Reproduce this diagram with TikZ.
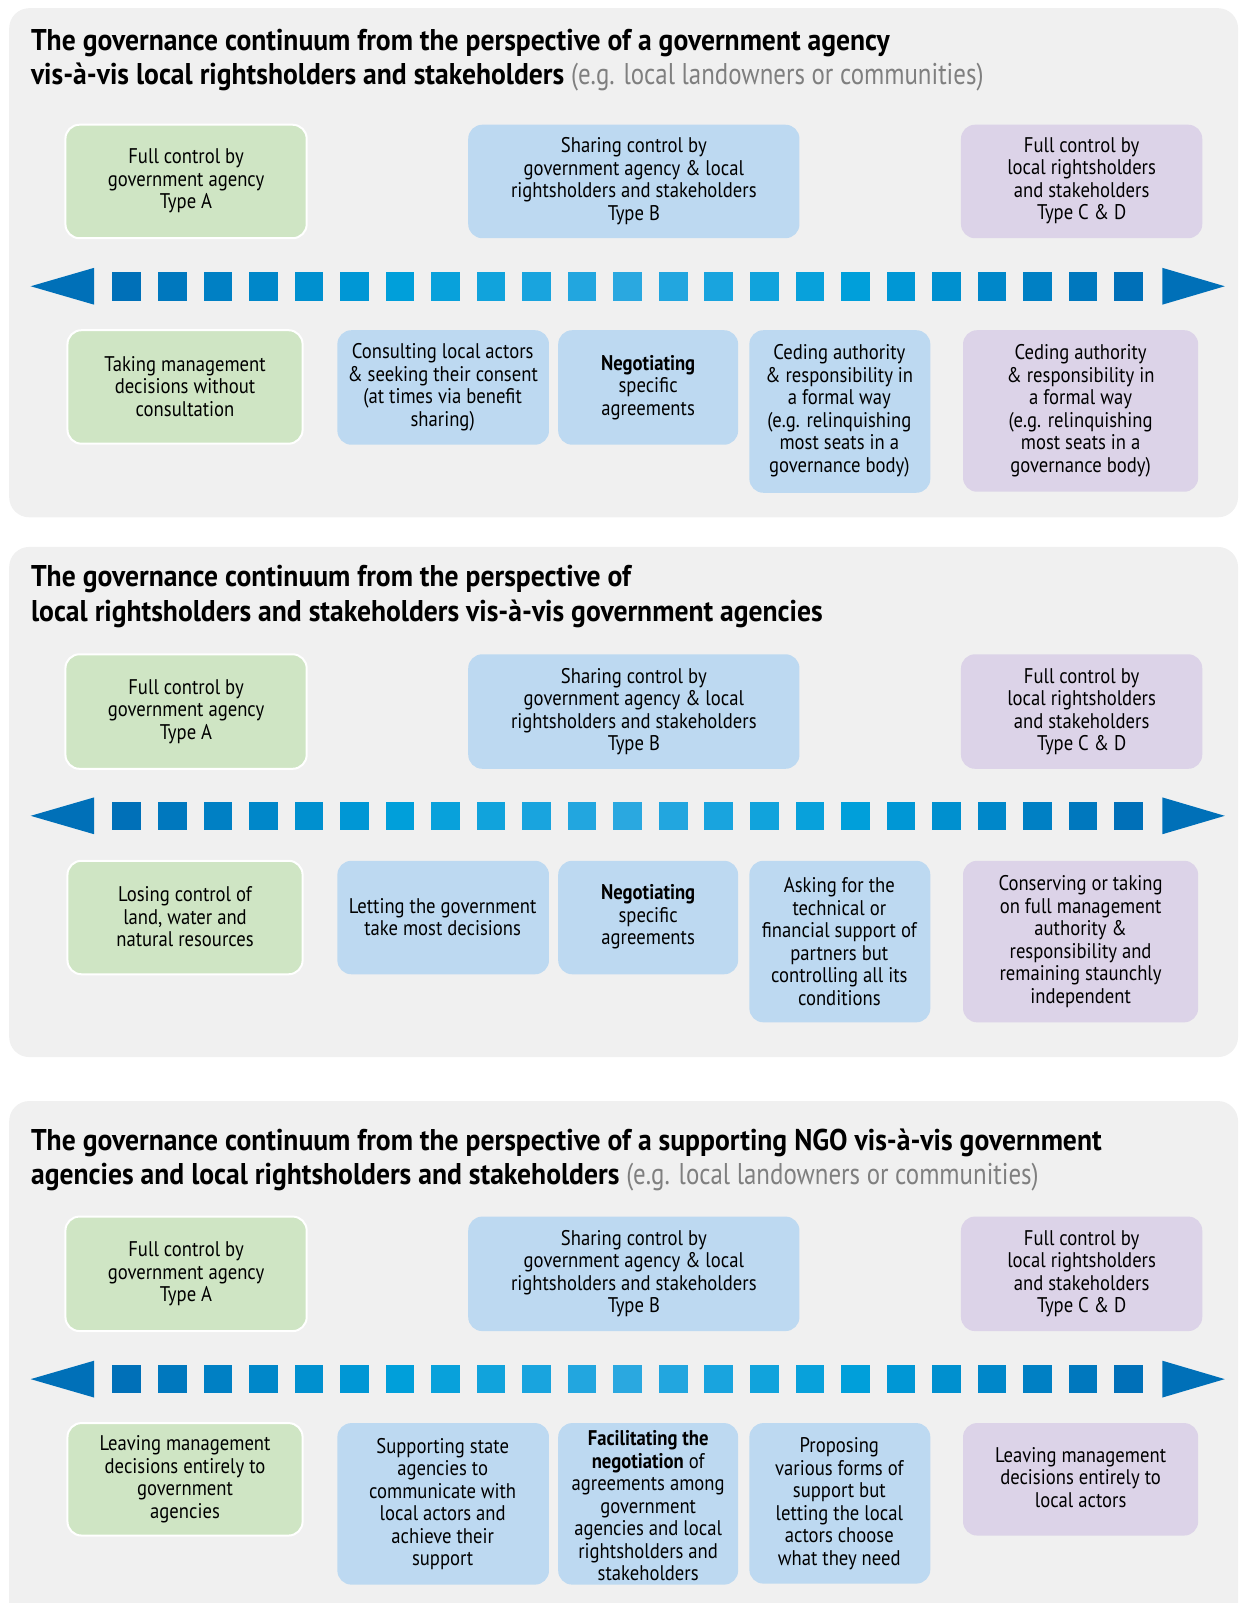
\documentclass[tikz,border=0pt]{standalone}
\usepackage{fontspec}
\setmainfont{PT Sans}[FakeStretch=0.88]
\newfontfamily\headfont{PT Sans}[FakeStretch=0.92]
\newfontfamily\notefont{PT Sans}[FakeStretch=0.83]
\definecolor{panelgray}{HTML}{F0F0F0}
\definecolor{boxgreen}{HTML}{CFE5C4}
\definecolor{boxblue}{HTML}{BDD9F1}
\definecolor{boxpurple}{HTML}{DCD3E8}
\definecolor{arrowdark}{HTML}{0070B8}
\definecolor{arrowcyan}{HTML}{009FDA}
\definecolor{arrowlight}{HTML}{2AA8E0}
\definecolor{notegray}{HTML}{7F7F7F}
\begin{document}
\begin{tikzpicture}[x=0.5111pt, y=-0.5111pt,
    panel/.style={fill=panelgray, rounded corners=10pt},
    greenbox/.style={fill=boxgreen, draw=white, line width=1pt, rounded corners=7pt},
    bluebox/.style={fill=boxblue, rounded corners=7pt},
    purplebox/.style={fill=boxpurple, rounded corners=7pt},
    boxtext/.style={align=center, inner sep=0pt, font=\fontsize{10.6}{11.25}\selectfont},
    title/.style={anchor=base west, inner sep=0pt, font=\fontsize{15}{17.4}\selectfont\headfont\bfseries},
    note/.style={font=\mdseries\color{notegray}}]
    \useasboundingbox (0,0) rectangle (1212,1568);

    % Panels
    \fill[panel] (9,8) rectangle (1211,506);
    \fill[panel] (9,535) rectangle (1211,1034);
    \fill[panel] (9,1077) rectangle (1211,1590);

    % Continuum arrows
    \foreach \ya in {280,798,1349} {
        \fill[arrowdark] (30,\ya) -- (92,\ya-18) -- (92,\ya+18) -- cycle;
        \fill[arrowdark] (1198,\ya) -- (1137,\ya-18) -- (1137,\ya+18) -- cycle;
        \foreach \i in {0,...,22} {
            \pgfmathtruncatemacro\d{abs(\i-11)}
            \ifnum\d<6
                \pgfmathtruncatemacro\p{100*\d/5}
                \colorlet{sqcol}{arrowcyan!\p!arrowlight}
            \else
                \pgfmathtruncatemacro\p{100*(\d-5)/6}
                \colorlet{sqcol}{arrowdark!\p!arrowcyan}
            \fi
            \fill[sqcol] ({110+44.545*\i},\ya-14) rectangle ++(28,28);
        }
    }

    % Panel 1: government agency
    \node[title] (title1a) at (30,49) {The governance continuum from the perspective of a government agency};
    \node[title] (title1b) at (30,83) {vis-à-vis local rightsholders and stakeholders {\notefont\mdseries\color{notegray}(e.g. local landowners or communities)}};

    \draw[greenbox] (64,122) rectangle (300,233);
    \node[boxtext] (gov1) at (182,177) {Full control by\\government agency\\Type A};
    \fill[bluebox] (458,122) rectangle (782,233);
    \node[boxtext] (share1) at (620,177) {Sharing control by\\government agency \& local\\rightsholders and stakeholders\\Type B};
    \fill[purplebox] (940,122) rectangle (1176,233);
    \node[boxtext] (local1) at (1058,177) {Full control by\\local rightsholders\\and stakeholders\\Type C \& D};

    \draw[greenbox] (66,323) rectangle (296,434);
    \node[boxtext] (take1) at (181,378) {Taking management\\decisions without\\consultation};
    \fill[bluebox] (330,323) rectangle (537,435);
    \node[boxtext] (consult1) at (433,379) {Consulting local actors\\\& seeking their consent\\(at times via benefit\\sharing)};
    \fill[bluebox] (546,323) rectangle (722,435);
    \node[boxtext] (negot1) at (634,379) {\textbf{Negotiating}\\specific\\agreements};
    \fill[bluebox] (733,323) rectangle (910,482);
    \node[boxtext] (cede1) at (821,402) {Ceding authority\\\& responsibility in\\a formal way\\(e.g. relinquishing\\most seats in a\\governance body)};
    \fill[purplebox] (942,323) rectangle (1172,481);
    \node[boxtext] (cedelocal1) at (1057,402) {Ceding authority\\\& responsibility in\\a formal way\\(e.g. relinquishing\\most seats in a\\governance body)};

    % Panel 2: local rightsholders and stakeholders
    \node[title] (title2a) at (30,574) {The governance continuum from the perspective of};
    \node[title] (title2b) at (30,608) {local rightsholders and stakeholders vis-à-vis government agencies};

    \draw[greenbox] (64,640) rectangle (300,752);
    \node[boxtext] (gov2) at (182,696) {Full control by\\government agency\\Type A};
    \fill[bluebox] (458,640) rectangle (782,752);
    \node[boxtext] (share2) at (620,696) {Sharing control by\\government agency \& local\\rightsholders and stakeholders\\Type B};
    \fill[purplebox] (940,640) rectangle (1176,752);
    \node[boxtext] (local2) at (1058,696) {Full control by\\local rightsholders\\and stakeholders\\Type C \& D};

    \draw[greenbox] (66,842) rectangle (296,953);
    \node[boxtext] (lose2) at (181,897) {Losing control of\\land, water and\\natural resources};
    \fill[bluebox] (330,842) rectangle (537,953);
    \node[boxtext] (let2) at (433,897) {Letting the government\\take most decisions};
    \fill[bluebox] (546,842) rectangle (722,953);
    \node[boxtext] (negot2) at (634,897) {\textbf{Negotiating}\\specific\\agreements};
    \fill[bluebox] (733,842) rectangle (910,1000);
    \node[boxtext] (ask2) at (821,921) {Asking for the\\technical or\\financial support of\\partners but\\controlling all its\\conditions};
    \fill[purplebox] (942,842) rectangle (1172,1000);
    \node[boxtext] (conserve2) at (1057,921) {Conserving or taking\\on full management\\authority \&\\responsibility and\\remaining staunchly\\independent};

    % Panel 3: supporting NGO
    \node[title] (title3a) at (30,1125) {The governance continuum from the perspective of a supporting NGO vis-à-vis government};
    \node[title] (title3b) at (30,1159) {agencies and local rightsholders and stakeholders {\notefont\mdseries\color{notegray}(e.g. local landowners or communities)}};

    \draw[greenbox] (64,1190) rectangle (300,1302);
    \node[boxtext] (gov3) at (182,1246) {Full control by\\government agency\\Type A};
    \fill[bluebox] (458,1190) rectangle (782,1302);
    \node[boxtext] (share3) at (620,1246) {Sharing control by\\government agency \& local\\rightsholders and stakeholders\\Type B};
    \fill[purplebox] (940,1190) rectangle (1176,1302);
    \node[boxtext] (local3) at (1058,1246) {Full control by\\local rightsholders\\and stakeholders\\Type C \& D};

    \draw[greenbox] (66,1392) rectangle (296,1502);
    \node[boxtext] (leavegov3) at (181,1447) {Leaving management\\decisions entirely to\\government\\agencies};
    \fill[bluebox] (330,1392) rectangle (537,1550);
    \node[boxtext] (support3) at (433,1471) {Supporting state\\agencies to\\communicate with\\local actors and\\achieve their\\support};
    \fill[bluebox] (546,1392) rectangle (722,1550);
    \node[boxtext] (facil3) at (634,1473) {\textbf{Facilitating the}\\\textbf{negotiation} of\\agreements among\\government\\agencies and local\\rightsholders and\\stakeholders};
    \fill[bluebox] (733,1392) rectangle (910,1549);
    \node[boxtext] (propose3) at (821,1471) {Proposing\\various forms of\\support but\\letting the local\\actors choose\\what they need};
    \fill[purplebox] (942,1392) rectangle (1172,1502);
    \node[boxtext] (leavelocal3) at (1057,1445) {Leaving management\\decisions entirely to\\local actors};
\end{tikzpicture}
\end{document}
